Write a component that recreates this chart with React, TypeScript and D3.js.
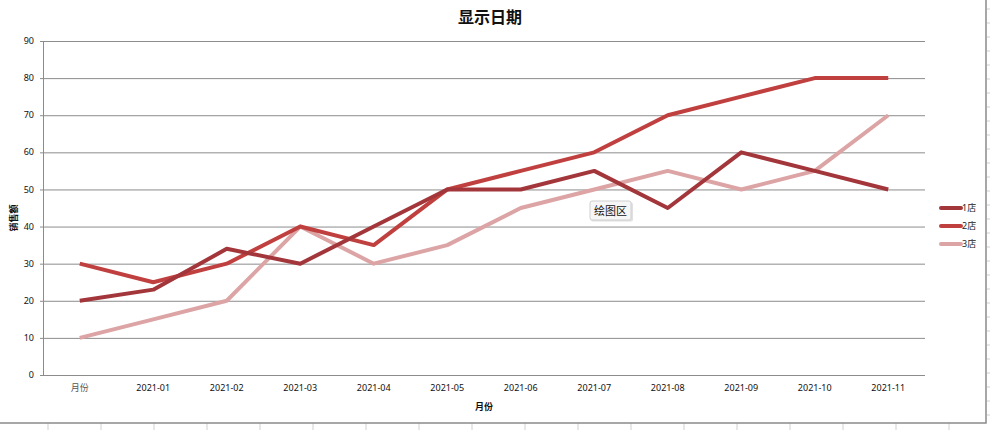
import { useEffect, useRef } from "react";
import * as d3 from "d3";

const categories = ["月份", "2021-01", "2021-02", "2021-03", "2021-04", "2021-05", "2021-06", "2021-07", "2021-08", "2021-09", "2021-10", "2021-11"];
const store1 = [20, 23, 34, 30, 40, 50, 50, 55, 45, 60, 55, 50];
const store2 = [30, 25, 30, 40, 35, 50, 55, 60, 70, 75, 80, 80];
const store3 = [10, 15, 20, 40, 30, 35, 45, 50, 55, 50, 55, 70];
const seriesNames = ["1店", "2店", "3店"];
const yTicks = [0, 10, 20, 30, 40, 50, 60, 70, 80, 90];

const colors = ["#a3363a", "#c0403f", "#dca4a4"];
const font = "'Noto Sans', 'Noto Sans CJK SC', sans-serif";

function App() {
  const ref = useRef<SVGSVGElement>(null);

  useEffect(() => {
    const svg = d3.select(ref.current);
    svg.selectAll("*").remove();

    const width = 990, height = 430;
    const m = { left: 43, right: 925, top: 41, bottom: 375 };

    // sheet grid behind the chart
    const sheet = svg.append("g");
    d3.range(48, 990, 53).forEach(x => {
      sheet.append("line").attr("x1", x).attr("x2", x).attr("y1", 423).attr("y2", height)
        .attr("stroke", "#d0d0d0");
    });
    d3.range(9, 423, 14).forEach(y => {
      sheet.append("line").attr("x1", 987).attr("x2", width).attr("y1", y).attr("y2", y)
        .attr("stroke", "#d0d0d0");
    });

    svg.append("rect").attr("x", -2).attr("y", -2).attr("width", 988).attr("height", 425)
      .attr("fill", "#fff").attr("stroke", "#8a8a8a").attr("stroke-width", 1.5);

    const x = d3.scaleBand().domain(categories).range([m.left, m.right]);
    const y = d3.scaleLinear().domain([0, 90]).range([m.bottom, m.top]);

    // gridlines
    svg.append("g").selectAll("line").data(yTicks).join("line")
      .attr("x1", m.left).attr("x2", m.right)
      .attr("y1", d => y(d) + 0.5).attr("y2", d => y(d) + 0.5)
      .attr("stroke", "#8c8c8c").attr("stroke-width", 1);

    svg.append("line").attr("x1", m.left + 0.5).attr("x2", m.left + 0.5)
      .attr("y1", m.top).attr("y2", m.bottom + 0.5).attr("stroke", "#8c8c8c");
    svg.append("g").selectAll("line").data(yTicks).join("line")
      .attr("x1", m.left - 3).attr("x2", m.left)
      .attr("y1", d => y(d) + 0.5).attr("y2", d => y(d) + 0.5).attr("stroke", "#8c8c8c");

    svg.append("g").selectAll("text").data(yTicks).join("text")
      .attr("x", 34).attr("y", d => y(d)).attr("dy", "0.35em")
      .attr("text-anchor", "end").attr("font-size", 9).attr("font-family", font)
      .attr("fill", "#111").text(d => d);

    svg.append("g").selectAll("text").data(categories).join("text")
      .attr("x", d => (x(d) ?? 0) + x.bandwidth() / 2).attr("y", 391)
      .attr("text-anchor", "middle").attr("font-size", 9).attr("font-family", font)
      .attr("fill", d => d === "月份" ? "#555" : "#111").text(d => d);

    svg.append("text").attr("x", 490).attr("y", 23).attr("text-anchor", "middle")
      .attr("font-size", 16).attr("font-weight", "bold").attr("font-family", font)
      .attr("fill", "#111").text("显示日期");

    svg.append("text").attr("x", 484).attr("y", 410).attr("text-anchor", "middle")
      .attr("font-size", 9).attr("font-weight", "bold").attr("font-family", font)
      .attr("fill", "#111").text("月份");

    svg.append("text").attr("transform", "translate(17,218) rotate(-90)")
      .attr("text-anchor", "middle").attr("font-size", 9).attr("font-weight", "bold")
      .attr("font-family", font).attr("fill", "#111").text("销售额");

    const line = d3.line<number>()
      .x((_, i) => (x(categories[i]) ?? 0) + x.bandwidth() / 2)
      .y(d => y(d));

    [store3, store2, store1].forEach((s, k) => {
      const idx = 2 - k;
      svg.append("path").attr("d", line(s)).attr("fill", "none")
        .attr("stroke", colors[idx]).attr("stroke-width", 4)
        .attr("stroke-linejoin", "round");
    });

    // legend
    const lg = svg.append("g");
    seriesNames.forEach((n, i) => {
      const ly = 208 + i * 18;
      lg.append("line").attr("x1", 941).attr("x2", 961).attr("y1", ly).attr("y2", ly)
        .attr("stroke", colors[i]).attr("stroke-width", 4).attr("stroke-linecap", "round");
      lg.append("text").attr("x", 962).attr("y", ly).attr("dy", "0.35em")
        .attr("font-size", 9).attr("font-family", font).attr("fill", "#222").text(n);
    });

    // tooltip
    const tip = svg.append("g").attr("transform", "translate(590,201)");
    tip.append("rect").attr("x", 1).attr("y", 1.5).attr("width", 42).attr("height", 19)
      .attr("rx", 2).attr("fill", "#ccc").attr("opacity", 0.6);
    tip.append("rect").attr("width", 41).attr("height", 19).attr("rx", 2)
      .attr("fill", "#f6f6f6").attr("stroke", "#cfcfcf");
    tip.append("text").attr("x", 20.5).attr("y", 10).attr("dy", "0.35em")
      .attr("text-anchor", "middle").attr("font-size", 11).attr("font-family", font)
      .attr("fill", "#111").text("绘图区");
  }, []);

  return (
    <svg ref={ref} width={990} height={430}
      style={{ position: "fixed", left: 0, top: 0, background: "#fff" }} />
  );
}

export default App;
